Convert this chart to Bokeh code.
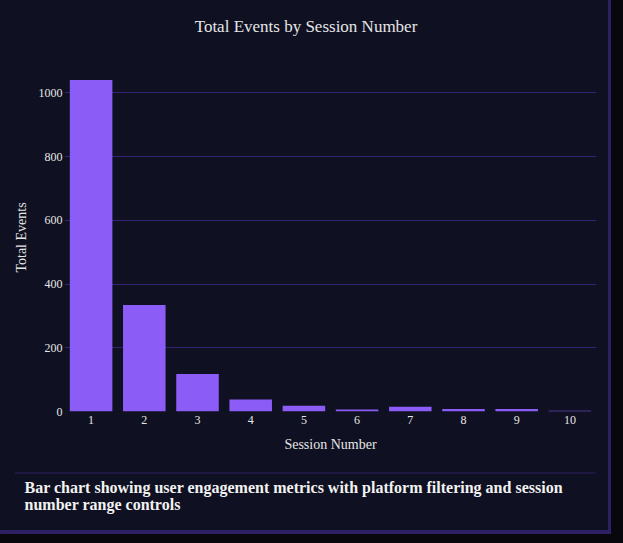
from bokeh.plotting import figure
from bokeh.models import (ColumnDataSource, FactorRange, Range1d, FixedTicker,
                          GlobalInlineStyleSheet)
from bokeh.layouts import column
from bokeh.core.properties import value
from bokeh.embed import file_html
from bokeh.resources import INLINE

# data
sessions = ["1", "2", "3", "4", "5", "6", "7", "8", "9", "10"]
total_events = [1040, 334, 118, 38, 18, 6, 15, 8, 8, 2]
y_ticks = [0, 200, 400, 600, 800, 1000]

chart_title = "Total Events by Session Number"
x_title = "Session Number"
y_title = "Total Events"
caption_lines = [
    "Bar chart showing user engagement metrics with platform filtering and session",
    "number range controls",
]

# colours
CARD = "#0f1021"
PAGE = "#07070d"
EDGE = "#2e2163"
GRID = "#32246e"
BAR = "#8b5cf6"
TEXT = "#e6e6e6"
FONT = "Liberation Serif"


def strip(height):
    # plain pixel-space figure used for the header and the caption
    f = figure(width=608, height=height,
               x_range=Range1d(0, 608), y_range=Range1d(height, 0),
               x_axis_type=None, y_axis_type=None,
               output_backend="svg", toolbar_location=None, min_border=0,
               background_fill_color=CARD, border_fill_color=CARD,
               outline_line_color=None)
    f.frame_align = False
    f.grid.visible = False
    return f


# header with the title
h = strip(40)
h.text(x=[305.5], y=[25.5], text=[chart_title],
       text_font=value(FONT), text_font_size="17px", text_color=TEXT,
       text_align="center", text_baseline="middle")

# bar chart
src = ColumnDataSource(data=dict(session=sessions, events=total_events))

p = figure(width=608, height=430,
           x_range=FactorRange(*sessions), y_range=Range1d(0, 1092),
           output_backend="svg", toolbar_location=None,
           min_border_left=64, min_border_right=12,
           min_border_top=23, min_border_bottom=59,
           background_fill_color=CARD, border_fill_color=CARD,
           outline_line_color=None,
           stylesheets=[GlobalInlineStyleSheet(css="body { background: %s; }" % PAGE)])

p.vbar(x="session", top="events", width=0.8, source=src,
       fill_color=BAR, line_color=None)

for ax in (p.xaxis, p.yaxis):
    ax.axis_line_color = None
    ax.major_tick_line_color = None
    ax.minor_tick_line_color = None
    ax.major_tick_out = 0
    ax.major_tick_in = 0
    ax.major_label_text_font = FONT
    ax.major_label_text_font_size = "12px"
    ax.major_label_text_color = TEXT
    ax.axis_label_text_font = FONT
    ax.axis_label_text_font_size = "14px"
    ax.axis_label_text_font_style = "normal"
    ax.axis_label_text_color = TEXT

p.xaxis.axis_label = x_title
p.xaxis.major_label_standoff = 4
p.xaxis.axis_label_standoff = 10
p.yaxis.axis_label = y_title
p.yaxis.major_label_standoff = 2
p.yaxis.axis_label_standoff = 7
p.yaxis.ticker = FixedTicker(ticks=y_ticks)

p.xgrid.grid_line_color = None
p.ygrid.grid_line_color = GRID
p.ygrid.grid_line_width = 1

# caption strip under the chart
c = strip(60)
c.segment(x0=[14.5], y0=[2.5], x1=[595], y1=[2.5], line_color=EDGE, line_width=1)
c.text(x=[24, 24], y=[16.7, 33.5], text=caption_lines,
       text_font=value(FONT), text_font_style="bold", text_font_size="16px",
       text_color="#f2f2f2", text_baseline="alphabetic", text_align="left")

card_shadow = "3px 0 0 0 %s, 0 4px 0 0 %s, 3px 4px 0 0 %s" % (EDGE, EDGE, EDGE)
layout = column(h, p, c, styles={"box-shadow": card_shadow, "background-color": CARD})

open("out.html", "w").write(file_html(layout, INLINE))
